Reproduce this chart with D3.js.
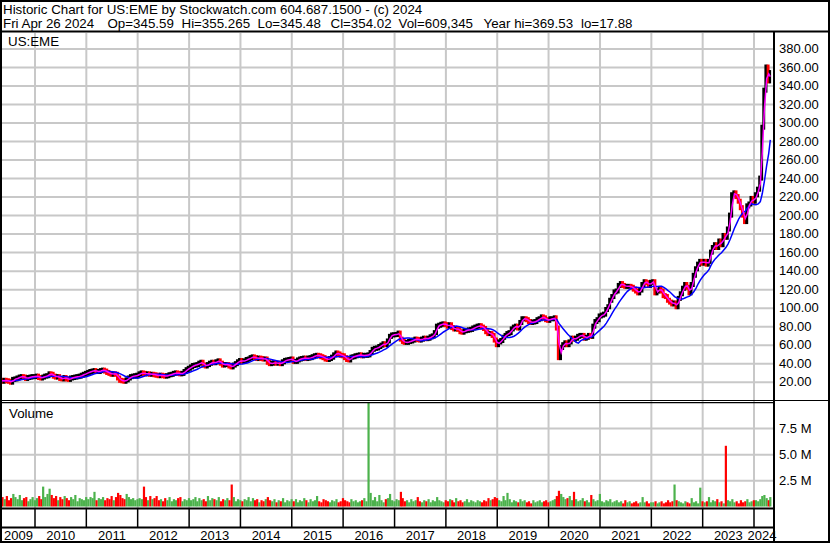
<!DOCTYPE html>
<html>
<head>
<meta charset="utf-8">
<script src="https://cdnjs.cloudflare.com/ajax/libs/d3/7.8.5/d3.min.js"></script>
<style>
  body { margin: 0; background: #fff; }
  svg text { font-family: "Liberation Sans", Arial, sans-serif; fill: #000; }
</style>
</head>
<body>
<svg id="chart" width="830" height="543"></svg>
<script>
// semi-monthly closes (mid month / month end), Apr 30 2009 .. Apr 26 2024
var close2009 = [21.5, 20.5, 21.5, 21, 20.5, 19.5, 22.5, 23, 24, 25, 25.5, 25, 23.5, 24.5, 25, 25.5, 25.5];
var close2010 = [26, 24.5, 24, 25, 26, 26.5, 28.5, 28, 26, 25, 25.5, 23.5, 23, 24.5, 23, 22.5, 24, 24.5, 25, 25.5, 26, 27, 28, 29];
var close2011 = [30, 31, 31.5, 32, 31, 31, 32, 32.5, 31.5, 30, 29, 28, 28.5, 28, 24, 21.5, 21, 20.5, 22, 24, 25.5, 26, 26.5, 27];
var close2012 = [28.5, 29.5, 29, 28.5, 28.5, 28, 28, 27.5, 27, 26.5, 27, 26.5, 26, 26.5, 27.5, 28, 29, 29.5, 29, 28.5, 29, 31, 33, 34.5];
var close2013 = [36, 37.5, 38, 38.5, 40, 41, 38, 37, 38.5, 40, 41, 40.5, 41.5, 42.5, 40, 38, 38.5, 38.5, 37, 36, 38, 39.5, 41.5, 42.9];
var close2014 = [42, 42.5, 44, 44.5, 46, 46.8, 46, 45, 45.5, 45, 44.5, 44.5, 41, 39.5, 40, 40.5, 40, 40, 39.5, 41.5, 43, 43.5, 44, 44.5];
var close2015 = [42, 42, 43.5, 44.5, 45, 45.5, 45, 45.5, 46, 47, 48, 48.5, 48, 47, 46, 44.5, 44, 45, 46.5, 49, 51, 50, 48.5, 48];
var close2016 = [46, 44, 43.5, 46.5, 47, 48, 48.5, 49, 48, 48.5, 48.5, 49, 51.5, 55, 56, 56.5, 58, 59.5, 61, 60, 64, 69, 70.5, 70.8];
var close2017 = [71, 72.5, 66, 63.5, 62.5, 62.5, 63.5, 64, 65, 66, 65.5, 65, 66, 67, 66.5, 67, 68.5, 69.5, 73, 80, 81, 82, 82.5, 81.7];
var close2018 = [80, 81.5, 78.5, 77, 77, 76.5, 74, 73.5, 75, 75.5, 76, 76.5, 78, 79, 80, 80.5, 79, 77.5, 74, 72, 72, 70, 65, 60];
var close2019 = [63, 64.5, 68, 70, 72, 73, 77, 79, 80, 78, 84, 88, 88, 87, 85, 84, 84.5, 85, 87, 88, 90, 89, 87, 86.3];
var close2020 = [88, 88, 89, 78, 46, 57, 60, 62, 60, 63, 67, 66, 67, 69, 70, 70, 67, 68, 70, 69, 80, 85, 87, 91];
var close2021 = [92, 93, 98, 101, 108, 112, 117, 118, 124, 126, 124, 123, 123, 123, 122, 120, 118, 116, 119, 125, 128, 127, 124, 127.4];
var close2022 = [128, 116, 118, 120, 118, 113, 112, 108, 106, 104, 105, 101, 110, 115, 121, 125, 122, 116, 125, 135, 142, 147, 150, 148];
var close2023 = [150, 147, 150, 160, 165, 168, 165, 172, 168, 178, 176, 185, 200, 222, 224, 220, 215, 208, 200, 193, 210, 212, 218, 215];
var close2024 = [222, 228, 240, 295, 335, 360, 345, 354];

// volume, millions of shares (largest day in each half month)
var vol2009 = [1.4, 0.9, 0.7, 1.0, 0.6, 0.8, 1.2, 0.9, 0.7, 1.1, 0.6, 0.8, 0.9, 0.5, 0.7, 0.9, 0.6];
var vol2010 = [0.8, 1.0, 0.7, 1.9, 0.9, 1.2, 1.7, 1.1, 0.8, 1.0, 0.6, 0.9, 0.7, 1.0, 0.8, 0.6, 0.9, 0.7, 1.1, 0.5, 0.8, 0.7, 0.6, 0.9];
var vol2011 = [0.7, 0.9, 0.8, 1.4, 0.6, 0.8, 0.7, 0.9, 0.6, 0.8, 0.7, 1.0, 0.6, 0.9, 1.3, 1.1, 0.8, 0.7, 1.2, 0.9, 0.7, 0.8, 0.6, 0.7];
var vol2012 = [0.8, 0.7, 1.9, 0.9, 0.6, 1.0, 0.7, 0.8, 1.0, 0.6, 0.7, 0.5, 0.8, 0.6, 0.9, 0.5, 0.7, 0.6, 0.8, 0.9, 0.5, 0.7, 0.6, 0.8];
var vol2013 = [0.6, 0.7, 0.9, 0.5, 0.8, 0.6, 0.7, 0.5, 1.0, 0.6, 0.8, 0.7, 0.6, 0.9, 0.5, 0.7, 0.6, 0.8, 0.6, 2.1, 0.9, 0.5, 0.7, 0.6];
var vol2014 = [0.5, 0.7, 0.6, 0.9, 0.5, 0.8, 0.6, 0.7, 0.4, 0.6, 0.5, 0.7, 0.9, 0.6, 0.5, 0.7, 0.4, 0.6, 0.5, 0.8, 0.4, 0.6, 0.5, 0.7];
var vol2015 = [0.5, 0.7, 0.4, 0.6, 0.5, 0.8, 0.6, 0.4, 0.7, 0.5, 0.6, 1.0, 0.5, 0.4, 0.7, 0.6, 0.5, 0.4, 0.6, 0.5, 0.7, 0.4, 0.5, 0.8];
var vol2016 = [0.6, 0.5, 0.4, 0.7, 0.5, 0.6, 0.4, 0.5, 0.6, 0.8, 0.5, 10.5, 1.3, 0.6, 0.9, 0.5, 1.1, 0.6, 0.4, 0.7, 0.8, 1.2, 0.6, 0.5];
var vol2017 = [0.7, 0.6, 1.4, 0.8, 0.5, 0.6, 0.4, 0.7, 0.5, 0.6, 0.9, 0.5, 0.4, 0.6, 0.5, 0.7, 0.4, 0.6, 0.5, 0.9, 0.6, 0.5, 0.4, 0.6];
var vol2018 = [0.5, 0.7, 0.6, 0.4, 0.8, 0.5, 0.6, 0.4, 0.5, 0.7, 0.4, 0.6, 0.5, 0.4, 0.6, 0.5, 0.4, 0.6, 0.5, 0.8, 0.6, 0.7, 0.9, 0.8];
var vol2019 = [0.6, 0.5, 1.0, 0.6, 1.3, 0.7, 0.4, 0.6, 0.5, 0.4, 0.7, 0.5, 0.6, 0.4, 0.5, 0.3, 0.6, 0.4, 0.5, 0.6, 0.4, 0.5, 0.6, 0.4];
var vol2020 = [0.5, 0.6, 0.7, 1.0, 1.5, 1.2, 0.9, 0.7, 0.8, 1.0, 0.6, 1.4, 0.7, 0.5, 0.6, 0.8, 0.5, 0.6, 0.4, 1.1, 0.7, 0.5, 0.6, 1.2];
var vol2021 = [0.5, 0.4, 0.6, 0.5, 0.7, 0.4, 0.5, 0.6, 0.4, 0.5, 0.3, 0.6, 0.4, 0.5, 0.3, 0.4, 0.5, 0.3, 0.4, 0.9, 0.4, 0.5, 0.3, 0.4];
var vol2022 = [0.4, 0.5, 0.3, 0.4, 0.5, 0.3, 0.4, 0.6, 0.4, 0.5, 2.1, 0.6, 0.5, 0.4, 0.3, 0.5, 0.4, 0.3, 0.8, 0.4, 0.5, 0.3, 1.8, 0.5];
var vol2023 = [0.4, 0.5, 0.9, 0.4, 0.6, 0.5, 0.7, 0.4, 0.5, 0.3, 5.8, 0.6, 0.5, 0.7, 0.4, 0.5, 0.3, 0.6, 0.4, 0.5, 0.7, 0.4, 0.5, 0.6];
var vol2024 = [0.6, 0.5, 0.7, 1.0, 1.1, 0.8, 0.6, 0.9];

var priceTicks = [20, 40, 60, 80, 100, 120, 140, 160, 180, 200, 220, 240, 260, 280, 300, 320, 340, 360, 380];
var volTicks = [2.5, 5, 7.5];
var years = [2009, 2010, 2011, 2012, 2013, 2014, 2015, 2016, 2017, 2018, 2019, 2020, 2021, 2022, 2023, 2024];

var title1 = "Historic Chart for US:EME by Stockwatch.com 604.687.1500 - (c) 2024";
var quoteItems = ["Fri Apr 26 2024", "Op=345.59", "Hi=355.265", "Lo=345.48", "Cl=354.02", "Vol=609,345", "Year hi=369.53", "lo=17.88"];
var quoteX = [3, 107.5, 181.5, 257.5, 330.5, 398.5, 483.5, 581];

var closes = [].concat(close2009, close2010, close2011, close2012, close2013, close2014, close2015, close2016,
                       close2017, close2018, close2019, close2020, close2021, close2022, close2023, close2024);
var volumes = [].concat(vol2009, vol2010, vol2011, vol2012, vol2013, vol2014, vol2015, vol2016,
                        vol2017, vol2018, vol2019, vol2020, vol2021, vol2022, vol2023, vol2024);

// the 15th and last day of every month
var dates = [];
for (var yr = 2009; yr <= 2024; yr++) {
  for (var m = 0; m < 12; m++) {
    dates.push(new Date(yr, m, 15));
    dates.push(new Date(yr, m + 1, 0));
  }
}
dates = dates.filter(function(d) { return d >= new Date(2009, 3, 30) && d <= new Date(2024, 3, 15); });
dates.push(new Date(2024, 3, 26));

var data = dates.map(function(d, i) {
  return { date: d, close: closes[i], vol: volumes[i], up: i == 0 || closes[i] >= closes[i - 1] };
});

function sma(n) {
  return data.map(function(d, i) {
    var s = closes.slice(Math.max(0, i - n + 1), i + 1);
    return { date: d.date, value: d3.mean(s) };
  });
}
var maFast = sma(2), maSlow = sma(10);

var svg = d3.select("#chart"),
    left = 2, right = 774,
    pTop = 33, pBot = 400,
    vTop = 403, vBot = 508;

var x = d3.scaleTime().domain([new Date(2010, 0, 1), new Date(2024, 0, 1)]).range([35, 754]);
var y = d3.scaleLinear().domain([20, 380]).range([381.7, 48.5]);
var yv = d3.scaleLinear().domain([0, 7.5]).range([506.5, 428]);

svg.append("rect").attr("width", 830).attr("height", 543).attr("fill", "#fff");

var defs = svg.append("defs");
defs.append("clipPath").attr("id", "clipP").append("rect")
    .attr("x", left).attr("y", pTop).attr("width", right - left - 1).attr("height", pBot - pTop);
defs.append("clipPath").attr("id", "clipV").append("rect")
    .attr("x", left).attr("y", vTop).attr("width", right - left - 1).attr("height", vBot - vTop);

// grid
var yearStarts = years.slice(1).map(function(y) { return new Date(y, 0, 1); });
svg.append("g").selectAll("line").data(yearStarts).enter().append("line")
    .attr("x1", function(d) { return x(d); }).attr("x2", function(d) { return x(d); })
    .attr("y1", pTop).attr("y2", vBot)
    .attr("stroke", "#c8c8c8").attr("stroke-width", 2);

svg.append("g")
    .attr("transform", "translate(" + right + ",0)")
    .call(d3.axisLeft(y).tickValues(priceTicks).tickSize(right - left).tickFormat(""))
    .call(function(g) { g.select(".domain").remove(); })
    .selectAll("line").attr("stroke", "#c8c8c8").attr("stroke-width", 2);

svg.append("g")
    .attr("transform", "translate(" + right + ",0)")
    .call(d3.axisLeft(yv).tickValues(volTicks).tickSize(right - left).tickFormat(""))
    .call(function(g) { g.select(".domain").remove(); })
    .selectAll("line").attr("stroke", "#c8c8c8").attr("stroke-width", 2);

// price trace: black for rising half months, red for falling ones
var pg = svg.append("g").attr("clip-path", "url(#clipP)");
pg.selectAll("rect").data(data).enter().append("rect")
    .attr("x", function(d, i) { return x(data[Math.max(0, i - 1)].date); })
    .attr("width", function(d, i) { return Math.max(1.5, x(d.date) - x(data[Math.max(0, i - 1)].date) + 0.8); })
    .attr("y", function(d, i) {
      var p = data[Math.max(0, i - 1)].close;
      return y(Math.max(p, d.close)) - 2.5;
    })
    .attr("height", function(d, i) {
      var p = data[Math.max(0, i - 1)].close;
      return Math.abs(y(p) - y(d.close)) + 5;
    })
    .attr("fill", function(d) { return d.up ? "#000" : "#f00"; });

var line = d3.line().x(function(d) { return x(d.date); }).y(function(d) { return y(d.value); });
pg.append("path").datum(maSlow).attr("d", line)
    .attr("fill", "none").attr("stroke", "#0000ff").attr("stroke-width", 1.5);
pg.append("path").datum(maFast).attr("d", line)
    .attr("fill", "none").attr("stroke", "#ff00ff").attr("stroke-width", 1.5);

// volume
var vg = svg.append("g").attr("clip-path", "url(#clipV)");
vg.selectAll("rect").data(data).enter().append("rect")
    .attr("x", function(d) { return x(d.date) - 1.1; })
    .attr("width", 2.2)
    .attr("y", function(d) { return yv(d.vol); })
    .attr("height", function(d) { return yv(0) - yv(d.vol); })
    .attr("fill", function(d) { return d.up ? "#4cb24c" : "#ff0000"; });

// axis labels on the right
svg.append("g")
    .attr("transform", "translate(" + (right + 1) + ",0)")
    .call(d3.axisRight(y).tickValues(priceTicks).tickSize(0).tickPadding(4).tickFormat(d3.format(".2f")))
    .call(function(g) { g.select(".domain").remove(); })
    .selectAll("text").attr("font-size", 13).attr("font-family", "Liberation Sans, Arial, sans-serif").attr("fill", "#000");

svg.append("g")
    .attr("transform", "translate(" + (right + 1) + ",0)")
    .call(d3.axisRight(yv).tickValues(volTicks).tickSize(0).tickPadding(4)
      .tickFormat(function(d) { return d3.format(".1f")(d) + " M"; }))
    .call(function(g) { g.select(".domain").remove(); })
    .selectAll("text").attr("font-size", 13).attr("font-family", "Liberation Sans, Arial, sans-serif").attr("fill", "#000");

// year cells
svg.append("g").selectAll("line").data(yearStarts).enter().append("line")
    .attr("x1", function(d) { return x(d); }).attr("x2", function(d) { return x(d); })
    .attr("y1", vBot).attr("y2", 527)
    .attr("stroke", "#000").attr("stroke-width", 1.5);

svg.append("g").selectAll("text").data(years).enter().append("text")
    .attr("x", function(yr) {
      var a = Math.max(left, x(new Date(yr, 0, 1))), b = Math.min(right, x(new Date(yr + 1, 0, 1)));
      return (a + b) / 2 - (yr == 2024 ? 2 : 0);
    })
    .attr("y", 539.5)
    .attr("text-anchor", "middle")
    .attr("font-size", 13)
    .text(function(yr) { return yr; });

// frame lines
function hline(y0, x1, x2, w) {
  svg.append("line").attr("x1", x1).attr("x2", x2).attr("y1", y0).attr("y2", y0)
     .attr("stroke", "#000").attr("stroke-width", w);
}
hline(31.5, 0, 830, 2);
hline(400.5, 0, 830, 1.2);
hline(402.7, 0, right, 1.2);
hline(508.5, 0, right, 2);
hline(527.5, 0, right, 2);
svg.append("line").attr("x1", right).attr("x2", right).attr("y1", 31).attr("y2", 543)
    .attr("stroke", "#000").attr("stroke-width", 2);
svg.append("rect").attr("x", 1).attr("y", 1).attr("width", 828).attr("height", 541)
    .attr("fill", "none").attr("stroke", "#000").attr("stroke-width", 2);

// header and panel labels
svg.append("text").attr("x", 3).attr("y", 14).attr("font-size", 13.33).text(title1);
svg.append("g").selectAll("text").data(quoteItems).enter().append("text")
    .attr("x", function(d, i) { return quoteX[i]; })
    .attr("y", 28).attr("font-size", 13.33)
    .text(function(d) { return d; });
svg.append("text").attr("x", 8).attr("y", 46).attr("font-size", 13.33).text("US:EME");
svg.append("text").attr("x", 9).attr("y", 418).attr("font-size", 13.33).text("Volume");
</script>
</body>
</html>
